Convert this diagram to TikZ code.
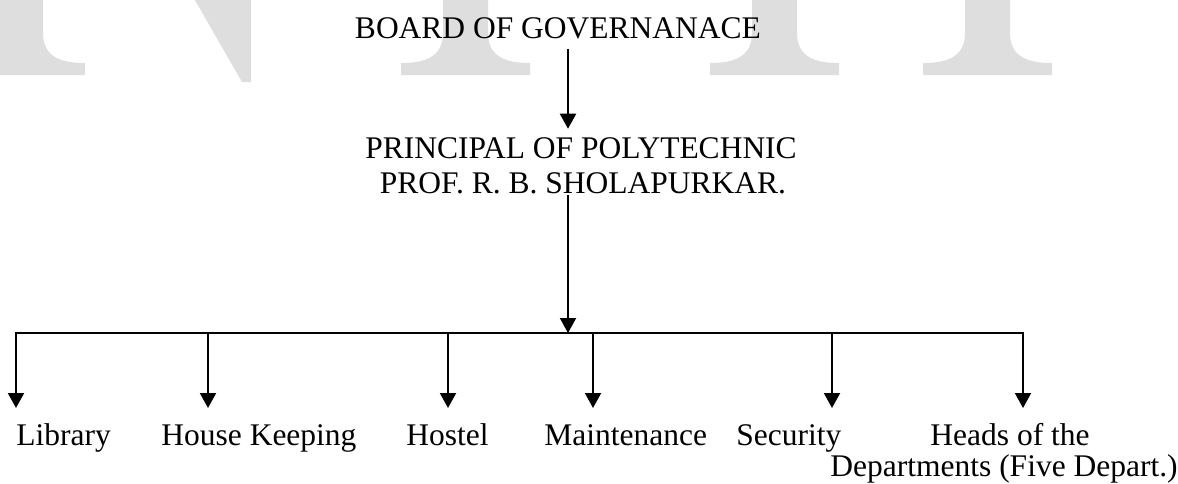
\documentclass[tikz,border=0pt]{standalone}
\usepackage{fontspec}
\setmainfont{Liberation Serif}
\usetikzlibrary{arrows.meta,calc}
\definecolor{wm}{RGB}{222,222,222}
\begin{document}
\begin{tikzpicture}[x=0.5pt,y=-0.5pt,
  lbl/.style={inner sep=0pt, font=\fontsize{15.75pt}{17.5pt}\selectfont},
  conn/.style={line width=1pt, -{Triangle[width=8pt,length=7.5pt]}},
  busline/.style={line width=1pt, line cap=rect},
  wmark/.style={fill=wm, draw=none}]
\useasboundingbox (0,0) rectangle (1178,483);
% watermark letters
\begin{scope}
\clip (0,0) rectangle (1178,483);
\foreach \xs in {-2,443,752,965}{
  \fill[wmark] (\xs,-5) -- (\xs,33) .. controls (\xs,57) and (\xs-18,63) .. (\xs-42,63)
    -- (\xs-42,75) -- (\xs+87,75) -- (\xs+87,63)
    .. controls (\xs+63,63) and (\xs+45,57) .. (\xs+45,33) -- (\xs+45,-5) -- cycle;
}
\fill[wmark] (192,-5) -- (251,-5) -- (251,82) -- (242,82) -- cycle;
\end{scope}
% texts
\node[lbl, anchor=base] (board) at (558,38) {BOARD OF GOVERNANACE};
\node[lbl, anchor=base] (principal) at (581,158) {PRINCIPAL OF POLYTECHNIC};
\node[lbl, anchor=base] (prof) at (583,193) {PROF. R. B. SHOLAPURKAR.};
\node[lbl, anchor=base west] (lib) at (16,445) {Library};
\node[lbl, anchor=base west] (hk) at (161,445) {House Keeping};
\node[lbl, anchor=base west] (hostel) at (406,445) {Hostel};
\node[lbl, anchor=base west] (maint) at (544,445) {Maintenance};
\node[lbl, anchor=base west] (sec) at (736,445) {Security};
\node[lbl, anchor=base west] (heads) at (930,445) {Heads of the};
\node[lbl, anchor=base west] (dept) at (830,476) {Departments (Five Depart.)};
% coordinates
\coordinate (bus) at (568,333);
\coordinate (row) at (0,408);
\coordinate (t1) at (16,333);
\coordinate (t2) at (208,333);
\coordinate (t3) at (448,333);
\coordinate (t4) at (593,333);
\coordinate (t5) at (832,333);
\coordinate (t6) at (1023,333);
% connectors
\draw[conn] ($(board.south -| bus)+(0,10)$) -- ($(principal.north -| bus)+(0,-8)$);
\draw[conn] ($(prof.south -| bus)+(0,1)$) -- (bus);
\draw[busline] (t1) -- (t6);
\foreach \t in {t1,t2,t3,t4,t5,t6}{
  \draw[conn] (\t) -- (\t |- row);
}
\end{tikzpicture}
\end{document}
